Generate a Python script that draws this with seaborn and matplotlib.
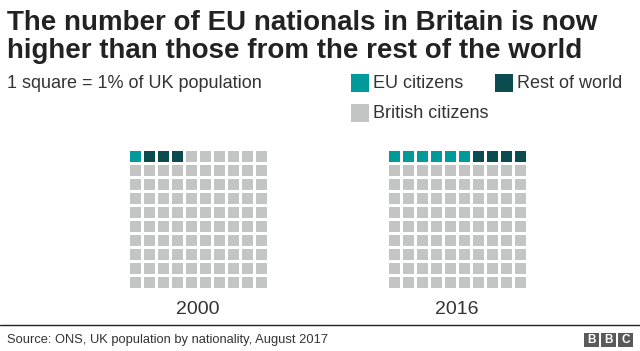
import numpy as np
import matplotlib.pyplot as plt
import seaborn as sns
from matplotlib.colors import ListedColormap
from matplotlib.patches import Rectangle
from matplotlib.lines import Line2D

# Data: 1 square = 1% of UK population
years = ['2000', '2016']
eu_share = [1, 6]
rest_share = [3, 4]
british_share = [96, 90]
categories = ['EU citizens', 'Rest of world', 'British citizens']

title = ('The number of EU nationals in Britain is now\n'
         'higher than those from the rest of the world')
subtitle = '1 square = 1% of UK population'
source = 'Source: ONS, UK population by nationality, August 2017'

colors = ['#009a9a', '#0a4c4f', '#c3c4c4']

W, H = 640, 351

sns.set_style('white')
plt.rcParams['font.family'] = ['Liberation Sans', 'DejaVu Sans']


def box(x0, y0, x1, y1):
    # pixel box (top-left origin) -> figure fraction rect
    return [x0 / W, 1 - y1 / H, (x1 - x0) / W, (y1 - y0) / H]


def fx(x):
    return x / W


def fy(y):
    return 1 - y / H


def waffle_grid(eu, rest, brit):
    cells = [0] * eu + [1] * rest + [2] * brit
    return np.array(cells).reshape(10, 10)


fig = plt.figure(figsize=(W / 100, H / 100), dpi=100)

# Title and subtitle
fig.text(fx(7), fy(10), title, ha='left', va='top', fontsize=20,
         fontweight='bold', color='#222222', linespacing=1.12)
fig.text(fx(7), fy(84), subtitle, ha='left', va='center', fontsize=13,
         color='#333333')

# Legend
legend_pos = [(351, 74, 373), (495, 74, 517), (351, 104, 373)]
for (sx, sy, tx), label, col in zip(legend_pos, categories, colors):
    fig.add_artist(Rectangle((fx(sx), fy(sy + 18)), 18 / W, 18 / H,
                             transform=fig.transFigure, color=col, lw=0))
    fig.text(fx(tx), fy(sy + 9), label, ha='left', va='center',
             fontsize=13, color='#333333')

# Waffles
grid_x = [128, 387]
cmap = ListedColormap(colors)
for i, yr in enumerate(years):
    ax = fig.add_axes(box(grid_x[i], 149, grid_x[i] + 140, 289))
    grid = waffle_grid(eu_share[i], rest_share[i], british_share[i])
    sns.heatmap(grid, cmap=cmap, vmin=-0.5, vmax=2.5, cbar=False,
                linewidths=0.8, linecolor='white', ax=ax)
    ax.set_axis_off()
    fig.text(fx(grid_x[i] + 70), fy(310), yr, ha='center', va='center',
             fontsize=14, color='#333333')

# Footer
fig.add_artist(Line2D([0, 1], [fy(325), fy(325)], transform=fig.transFigure,
                      color='#222222', lw=1))
fig.text(fx(7), fy(340), source, ha='left', va='center', fontsize=9.3,
         color='#333333')
for j, letter in enumerate('BBC'):
    bx = 584 + j * 17
    fig.add_artist(Rectangle((fx(bx), fy(347)), 15 / W, 14 / H,
                             transform=fig.transFigure, color='#5a5a5a', lw=0))
    fig.text(fx(bx + 7.5), fy(340), letter, ha='center', va='center',
             fontsize=8.5, fontweight='bold', color='white')

fig.savefig('out.png', dpi=100)
